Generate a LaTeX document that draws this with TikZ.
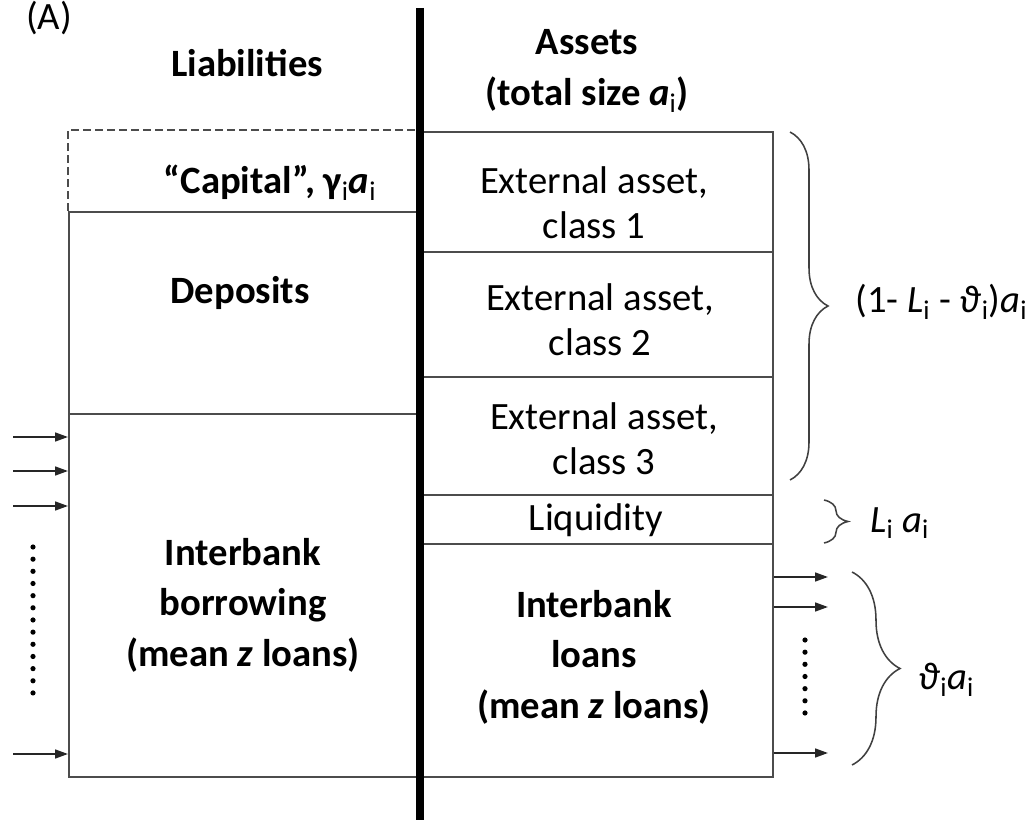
\documentclass[tikz,border=0pt]{standalone}
\usepackage{fontspec}
\setmainfont{Carlito}
\usetikzlibrary{arrows.meta,positioning,calc,decorations.pathreplacing}

\tikzset{
  cell/.style={draw=black!70, line width=1.3pt, inner sep=0pt, anchor=north west, minimum width=8.8cm},
  txt/.style={font=\fontsize{27.5}{32}\selectfont, align=center, inner sep=0pt},
  btxt/.style={font=\fontsize{27.5}{36}\selectfont\bfseries, align=center, inner sep=0pt},
  flow/.style={-{Triangle[length=0.32cm,width=0.22cm]}, line width=1.3pt, black!85},
  dots/.style={line width=0.13cm, line cap=round, dash pattern=on 0pt off 0.304cm},
  brc/.style={decorate, decoration={brace, amplitude=#1}, line width=1.1pt, black!75},
}
\newcommand{\sbi}{\textsubscript{\textmd{i}}}

\begin{document}
\begin{tikzpicture}[x=0.025cm, y=-0.025cm]
    \useasboundingbox (0,0) rectangle (1028,820);

    % liabilities side
    \draw[black!70, line width=1.3pt, dash pattern=on 0.2cm off 0.1cm] (68,211) -- (68,130) -- (420,130);
    \node[cell, minimum height=5.05cm] (deposits) at (68,211) {};
    \node[cell, minimum height=9.075cm] (borrow) at (68,413) {};

    % assets side
    \node[cell, minimum height=3.0cm] (ext1) at (420,131) {};
    \node[cell, minimum height=3.125cm] (ext2) at (420,251) {};
    \node[cell, minimum height=2.95cm] (ext3) at (420,376) {};
    \node[cell, minimum height=1.225cm] (liq) at (420,494) {};
    \node[cell, minimum height=5.825cm] (lend) at (420,543) {};

    \draw[line width=5.5pt] (420,8) -- (420,820);

    % labels
    \node[txt, anchor=north] (panel) at (49,1) {(A)};
    \node[btxt] (liabhead) at (247,63) {Liabilities};
    \node[btxt] (assethead) at (587,71) {Assets\\(total size \textit{a}\sbi)};
    \node[btxt] (captxt) at (270,183) {“Capital”, γ\sbi\textit{a}\sbi};
    \node[btxt] (deptxt) at (240,293) {Deposits};
    \node[btxt] (borrowtxt) at (243,605) {Interbank\\borrowing\\(mean \textit{z} loans)};
    \node[txt] (ext1txt) at (594,203) {External asset,\\class 1};
    \node[txt] (ext2txt) at (600,320) {External asset,\\class 2};
    \node[txt] (ext3txt) at (604,439) {External asset,\\class 3};
    \node[txt] (liqtxt) at (596,520) {Liquidity};
    \node[btxt] (lendtxt) at (594,657) {Interbank\\loans\\(mean \textit{z} loans)};

    % incoming and outgoing loans
    \foreach \yy [count=\k] in {437,471,506,754} {
        \coordinate (src\k) at (13,\yy);
        \draw[flow] (src\k) -- (src\k -| borrow.west);
    }
    \foreach \yy [count=\k] in {577,607,753} {
        \coordinate (dst\k) at (828,\yy);
        \draw[flow] (dst\k -| lend.east) -- (dst\k);
    }
    \draw[dots] (33,547) -- (33,693);
    \draw[dots] (805,640) -- (805,713);

    % braces
    \draw[brc=0.95cm] (790,132) -- (790,480);
    \node[txt, anchor=west] (extshare) at (855,302) {(1- \textit{L}\sbi{} - \textit{ϑ}\sbi)\textit{a}\sbi};
    \draw[brc=0.6cm] (824,500) -- (824,543);
    \node[txt, anchor=west] (liqshare) at (870,523) {\textit{L}\sbi{} \textit{a}\sbi};
    \draw[brc=1.2cm] (852,572) -- (852,765);
    \node[txt, anchor=west] (lendshare) at (918,680) {\textit{ϑ}\sbi\textit{a}\sbi};
\end{tikzpicture}
\end{document}
